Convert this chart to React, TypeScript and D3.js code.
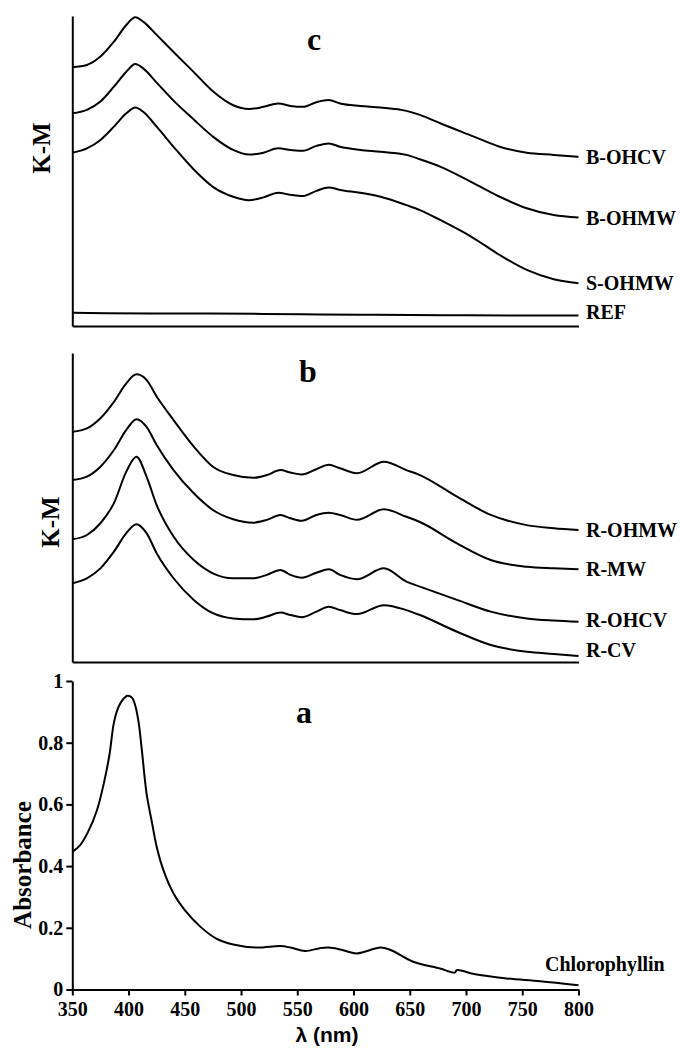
import * as d3 from 'd3';
import { useEffect, useRef } from 'react';

// panel c (K-M, arbitrary units)
const wlC = [350, 363, 375, 387, 398, 406, 413, 425, 440, 458, 475, 493, 507, 520, 533, 544, 555, 567, 578, 588, 606, 624, 647, 659, 677, 707, 730, 754, 778, 800];
const bOHCV = [0.835, 0.842, 0.869, 0.917, 0.971, 0.996, 0.982, 0.939, 0.884, 0.819, 0.757, 0.712, 0.7, 0.707, 0.718, 0.71, 0.707, 0.722, 0.729, 0.718, 0.71, 0.705, 0.694, 0.681, 0.654, 0.611, 0.578, 0.559, 0.552, 0.546];
const bOHMW = [0.686, 0.697, 0.724, 0.772, 0.82, 0.845, 0.831, 0.785, 0.727, 0.666, 0.611, 0.568, 0.553, 0.559, 0.573, 0.568, 0.565, 0.581, 0.589, 0.578, 0.568, 0.562, 0.552, 0.538, 0.514, 0.46, 0.417, 0.38, 0.358, 0.35];
const sOHMW = [0.559, 0.573, 0.6, 0.643, 0.686, 0.705, 0.691, 0.643, 0.578, 0.505, 0.449, 0.417, 0.406, 0.415, 0.43, 0.423, 0.419, 0.436, 0.447, 0.439, 0.43, 0.417, 0.39, 0.374, 0.342, 0.283, 0.229, 0.181, 0.151, 0.138];
const wlRef = [350, 380, 420, 470, 520, 570, 620, 680, 740, 800];
const refKM = [0.043, 0.041, 0.04, 0.04, 0.039, 0.037, 0.036, 0.035, 0.034, 0.034];

// panel b
const wlB = [350, 363, 375, 387, 398, 407, 416, 425, 440, 458, 475, 493, 511, 523, 535, 544, 554, 567, 578, 588, 603, 627, 647, 659, 692, 722, 754, 778, 800];
const rOHMW = [0.745, 0.756, 0.789, 0.842, 0.902, 0.931, 0.913, 0.859, 0.783, 0.697, 0.632, 0.605, 0.596, 0.605, 0.621, 0.613, 0.607, 0.624, 0.638, 0.627, 0.611, 0.648, 0.621, 0.605, 0.535, 0.476, 0.443, 0.433, 0.427];
const rMW = [0.589, 0.6, 0.632, 0.686, 0.751, 0.786, 0.761, 0.702, 0.621, 0.546, 0.492, 0.462, 0.451, 0.46, 0.476, 0.465, 0.457, 0.476, 0.483, 0.476, 0.46, 0.494, 0.47, 0.453, 0.384, 0.33, 0.308, 0.303, 0.3];
const rOHCV = [0.397, 0.411, 0.449, 0.514, 0.616, 0.664, 0.6, 0.508, 0.406, 0.33, 0.287, 0.271, 0.271, 0.282, 0.298, 0.282, 0.273, 0.289, 0.3, 0.282, 0.268, 0.303, 0.26, 0.244, 0.201, 0.163, 0.141, 0.134, 0.13];
const rCV = [0.255, 0.271, 0.303, 0.357, 0.417, 0.446, 0.417, 0.352, 0.271, 0.201, 0.158, 0.141, 0.138, 0.147, 0.16, 0.152, 0.145, 0.163, 0.179, 0.168, 0.155, 0.184, 0.168, 0.152, 0.098, 0.055, 0.033, 0.026, 0.019];

// panel a (absorbance)
const wlA = [350, 357, 364, 372, 378, 383, 387, 391, 395, 399, 403, 406, 409, 412, 416, 421, 425, 431, 440, 450, 464, 478, 493, 514, 535, 544, 557, 570, 578, 588, 603, 624, 633, 653, 677, 690, 692, 707, 736, 766, 800];
const chlorophyllin = [0.446, 0.468, 0.511, 0.582, 0.668, 0.76, 0.865, 0.915, 0.94, 0.952, 0.946, 0.92, 0.865, 0.77, 0.636, 0.538, 0.463, 0.387, 0.311, 0.257, 0.203, 0.165, 0.146, 0.136, 0.141, 0.136, 0.125, 0.134, 0.136, 0.13, 0.117, 0.136, 0.128, 0.09, 0.068, 0.055, 0.063, 0.05, 0.036, 0.027, 0.014];

const xTicks = [350, 400, 450, 500, 550, 600, 650, 700, 750, 800];
const yTicks = [0, 0.2, 0.4, 0.6, 0.8, 1];

const seriesC = [
  { name: 'B-OHCV', wl: wlC, v: bOHCV },
  { name: 'B-OHMW', wl: wlC, v: bOHMW },
  { name: 'S-OHMW', wl: wlC, v: sOHMW },
  { name: 'REF', wl: wlRef, v: refKM },
];
const seriesB = [
  { name: 'R-OHMW', wl: wlB, v: rOHMW },
  { name: 'R-MW', wl: wlB, v: rMW },
  { name: 'R-OHCV', wl: wlB, v: rOHCV },
  { name: 'R-CV', wl: wlB, v: rCV },
];

const SERIF = '"Liberation Serif", "Times New Roman", serif';
const labelNudge = { REF: -3, 'R-CV': -6, 'R-OHCV': -2 };

const App = () => {
  const svgRef = useRef(null);

  useEffect(() => {
    const svg = d3.select(svgRef.current);
    svg.selectAll('*').remove();
    svg.append('rect').attr('width', 680).attr('height', 1056).attr('fill', '#fff');

    const x = d3.scaleLinear().domain([350, 800]).range([72.3, 578.5]);
    const yC = d3.scaleLinear().domain([0, 1]).range([326, 16]);
    const yB = d3.scaleLinear().domain([0, 1]).range([662, 353]);
    const yA = d3.scaleLinear().domain([0, 1]).range([989.5, 681]);

    const drawSeries = (s, y) => {
      const pts = s.wl.map((w, i) => [w, s.v[i]]);
      const line = d3.line()
        .x(d => x(d[0]))
        .y(d => y(d[1]))
        .curve(d3.curveMonotoneX);
      svg.append('path')
        .attr('d', line(pts))
        .attr('fill', 'none')
        .attr('stroke', '#000')
        .attr('stroke-width', 2);
      svg.append('text')
        .attr('x', 586)
        .attr('y', y(s.v[s.v.length - 1]) + (labelNudge[s.name] || 0))
        .attr('dy', '0.35em')
        .attr('font-family', SERIF)
        .attr('font-weight', 'bold')
        .attr('font-size', 20)
        .text(s.name);
    };

    // bare frame axes for K-M panels
    const frame = (y) => {
      svg.append('g')
        .attr('transform', 'translate(72.3,0)')
        .call(d3.axisLeft(y).tickValues([]).tickSizeOuter(0))
        .select('.domain').attr('stroke-width', 2);
      svg.append('g')
        .attr('transform', `translate(0,${y(0)})`)
        .call(d3.axisBottom(x).tickValues([]).tickSizeOuter(0))
        .select('.domain').attr('stroke-width', 2);
    };

    frame(yC);
    seriesC.forEach(s => drawSeries(s, yC));
    frame(yB);
    seriesB.forEach(s => drawSeries(s, yB));

    // panel a
    const ax = svg.append('g')
      .attr('transform', `translate(0,${yA(0)})`)
      .call(d3.axisBottom(x).tickValues(xTicks).tickSize(6).tickPadding(6).tickSizeOuter(0));
    const ay = svg.append('g')
      .attr('transform', 'translate(72.3,0)')
      .call(d3.axisLeft(yA).tickValues(yTicks).tickSize(6).tickPadding(3).tickSizeOuter(0).tickFormat(d3.format('~g')));
    [ax, ay].forEach(g => {
      g.selectAll('path, line').attr('stroke-width', 2);
      g.selectAll('text')
        .attr('font-family', SERIF)
        .attr('font-weight', 'bold')
        .attr('font-size', 20)
        .attr('fill', '#000');
    });

    const chl = wlA.map((w, i) => [w, chlorophyllin[i]]);
    svg.append('path')
      .attr('d', d3.line().x(d => x(d[0])).y(d => yA(d[1])).curve(d3.curveCatmullRom.alpha(0.5))(chl))
      .attr('fill', 'none')
      .attr('stroke', '#000')
      .attr('stroke-width', 2);
    svg.append('text')
      .attr('x', 545)
      .attr('y', yA(0.06))
      .attr('font-family', SERIF)
      .attr('font-weight', 'bold')
      .attr('font-size', 20)
      .text('Chlorophyllin');

    // panel letters
    const letter = (t, cx, by) => svg.append('text')
      .attr('x', cx).attr('y', by)
      .attr('text-anchor', 'middle')
      .attr('font-family', SERIF)
      .attr('font-weight', 'bold')
      .attr('font-size', 32)
      .text(t);
    letter('c', 314, 50);
    letter('b', 308, 382);
    letter('a', 304, 723);

    // y titles
    const yTitle = (t, cx, cy) => svg.append('text')
      .attr('transform', `translate(${cx},${cy}) rotate(-90)`)
      .attr('text-anchor', 'middle')
      .attr('dy', '0.35em')
      .attr('font-family', SERIF)
      .attr('font-weight', 'bold')
      .attr('font-size', 25)
      .text(t);
    yTitle('K-M', 41, 148);
    yTitle('K-M', 50, 522);
    yTitle('Absorbance', 22, 865);

    svg.append('text')
      .attr('x', 327)
      .attr('y', 1042)
      .attr('text-anchor', 'middle')
      .attr('font-family', '"Liberation Sans", Arial, sans-serif')
      .attr('font-weight', 'bold')
      .attr('font-size', 21)
      .text('λ (nm)');
  }, []);

  return (
    <svg ref={svgRef} width={680} height={1056} style={{ position: 'absolute', left: 0, top: 0 }}></svg>
  );
};

export default App;
